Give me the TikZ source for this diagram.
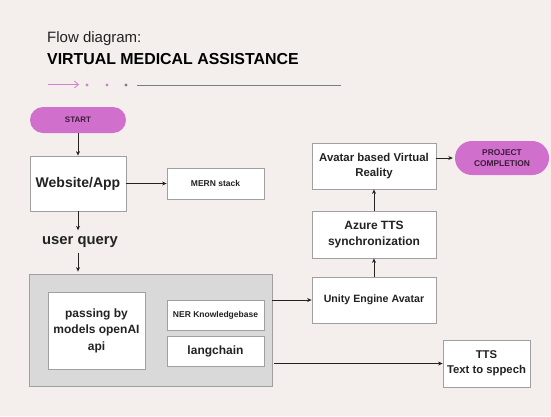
\documentclass[tikz,border=0pt]{standalone}
\usepackage{fontspec}
\setmainfont{Liberation Sans}
\definecolor{pagebg}{HTML}{F4EFEC}
\definecolor{startpink}{HTML}{D070CC}
\definecolor{boxline}{HTML}{A0A0A0}
\definecolor{groupbg}{HTML}{D9D9D9}
\definecolor{inkdark}{HTML}{222222}
\definecolor{pilltext}{HTML}{3B1C3A}
\definecolor{decopink}{HTML}{D47FD0}
\definecolor{decoline}{HTML}{6E8088}
\usetikzlibrary{arrows.meta,positioning}

\begin{document}
\begin{tikzpicture}[x=1pt,y=-1pt,
        box/.style={rectangle,draw=boxline,fill=white,line width=0.8pt,
                    align=center,text=inkdark,font=\bfseries,inner sep=2pt},
        pill/.style={rectangle,rounded corners=13pt,fill=startpink,
                     text=pilltext,align=center,inner sep=2pt},
        arr/.style={-{Stealth[length=4.5pt,width=4pt]},line width=0.9pt,draw=inkdark}
      ]
        \fill[pagebg] (0,0) rectangle (551,416);
        % heading
        \node[anchor=west,inner sep=0pt,text=inkdark,font=\fontsize{15}{17}\selectfont] (flow) at (47,39) {Flow diagram:};
        \node[anchor=west,inner sep=0pt,text=black,font=\fontsize{15.9}{18}\selectfont\bfseries] (title) at (47,59) {VIRTUAL MEDICAL ASSISTANCE};
        \draw[decopink,line width=0.8pt,-{Straight Barb[length=4pt,width=7pt]}] (48,84.5) -- (79,84.5);
        \fill[decopink] (87,85) circle (1.6pt) (107,85) circle (1.6pt);
        \fill[decoline] (126,85) circle (1.6pt);
        \draw[decoline,line width=0.8pt] (137,85) -- (341,85);
        % left column
        \node[pill,minimum width=96pt,minimum height=26pt,font=\fontsize{8}{10}\selectfont\bfseries] (start) at (78,120) {START};
        \node[box,minimum width=96pt,minimum height=55pt,font=\fontsize{14}{17}\selectfont\bfseries] (web) at (78,183.5) {Website/App};
        \node[box,minimum width=97pt,minimum height=31pt,font=\fontsize{8.5}{10}\selectfont\bfseries] (mern) at (215.5,183.5) {MERN stack};
        \node[text=inkdark,inner sep=2pt,font=\fontsize{14.8}{17}\selectfont\bfseries] (query) at (80,242) {user query};
        % processing group
        \node[rectangle,draw=boxline,fill=groupbg,line width=0.8pt,minimum width=243pt,minimum height=112pt] (group) at (150.5,330) {};
        \node[box,minimum width=97pt,minimum height=77pt,font=\fontsize{12}{16.5}\selectfont\bfseries] (models) at (96.5,330.5) {passing by\\models openAI\\api};
        \node[box,minimum width=97pt,minimum height=30pt,font=\fontsize{8.5}{10}\selectfont\bfseries] (ner) at (215.5,315) {NER Knowledgebase};
        \node[box,minimum width=97pt,minimum height=30pt,font=\fontsize{12}{14}\selectfont\bfseries] (lang) at (215.5,351) {langchain};
        % right column
        \node[box,minimum width=124pt,minimum height=46pt,font=\fontsize{10.6}{13}\selectfont\bfseries] (unity) at (374,300) {Unity Engine Avatar};
        \node[box,minimum width=124pt,minimum height=47pt,font=\fontsize{12}{16}\selectfont\bfseries] (azure) at (374,234.5) {Azure TTS\\synchronization};
        \node[box,minimum width=124pt,minimum height=46pt,font=\fontsize{11.4}{15}\selectfont\bfseries] (avatar) at (374,166) {Avatar based Virtual\\Reality};
        \node[pill,rounded corners=17pt,minimum width=94pt,minimum height=34pt,font=\fontsize{8.4}{11.7}\selectfont\bfseries] (done) at (502,158) {PROJECT\\COMPLETION};
        \node[box,minimum width=87pt,minimum height=47pt,font=\fontsize{11.3}{15}\selectfont\bfseries] (tts) at (486.5,363.5) {TTS\\Text to sppech};
        % connectors
        \draw[arr] (start) -- (web);
        \draw[arr] (web) -- (mern);
        \draw[arr,shorten >=4pt] (web) -- (web |- query.north);
        \draw[arr,shorten <=3pt,shorten >=2pt] (web |- query.south) -- (web |- group.north);
        \draw[arr] (group.east |- unity.west) -- (unity.west);
        \draw[arr,shorten <=2pt] (group.east |- tts.west) -- (tts.west);
        \draw[arr] (unity) -- (azure);
        \draw[arr] (azure) -- (avatar);
        \draw[arr,shorten >=2pt] (done.west -| avatar.east) -- (done.west);
      \end{tikzpicture}
\end{document}
